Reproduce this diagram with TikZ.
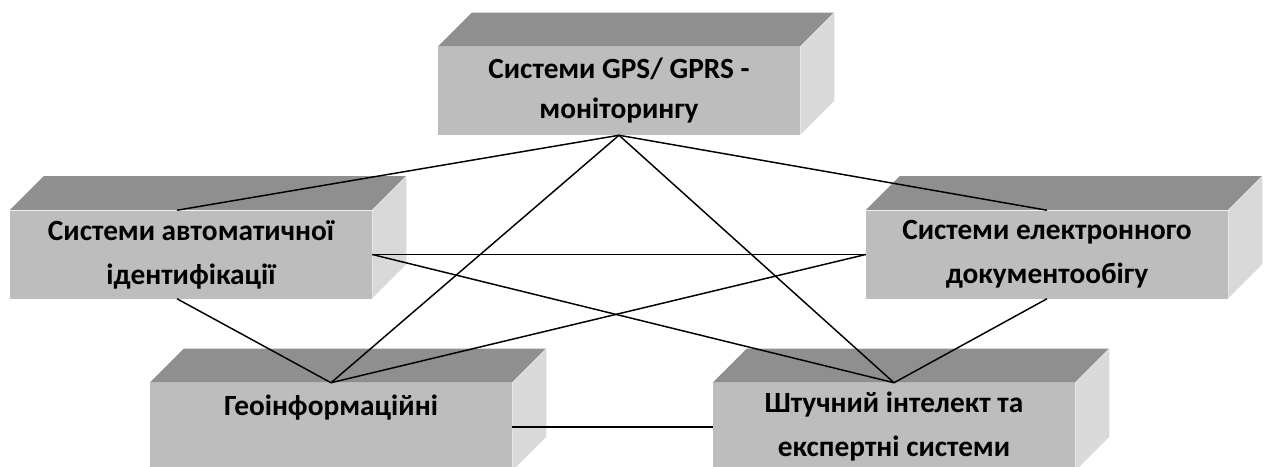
\documentclass[tikz,border=0pt]{standalone}
\usepackage{fontspec}
\setmainfont{Carlito}
\usepackage{tikz}
\definecolor{frontgray}{RGB}{189,189,189}
\definecolor{topgray}{RGB}{143,143,143}
\definecolor{sidegray}{RGB}{217,217,217}
\tikzset{
  block/.style = {fill = frontgray, minimum width = 271.5pt, minimum height = 66pt,
    inner sep = 0pt, align = center, font = \fontsize{22}{33}\selectfont\bfseries},
  link/.style = {line width = 1.1pt}
}

\begin{document}
\begin{tikzpicture}[x = 0.75pt, y = -0.75pt]
        \useasboundingbox (0, 0) rectangle (1265, 467);
        \node [block, font = \fontsize{22}{30}\selectfont\bfseries] (gps) at (619, 91) {Системи GPS/ GPRS -\\моніторингу};
        \node [block] (aid) at (191, 254.5) {Системи автоматичної\\ідентифікації};
        \node [block] (edo) at (1047, 254.5) {Системи електронного\\документообігу};
        \node [block] (geo) at (331, 427) {Геоінформаційні\\~};
        \node [block] (ai) at (894, 427) {Штучний інтелект та\\експертні системи};
        \foreach \n in {gps, aid, edo, geo, ai} {
            \fill [topgray] (\n.north west) -- ++(34, -34) -- ++(362, 0) -- ++(-34, 34) -- cycle;
            \fill [sidegray] (\n.north east) -- ++(34, -34) -- ++(0, 88) -- ++(-34, 34) -- cycle;
        }
        % connection points of the left box sit a little left of its centre
        \coordinate (aidtop) at ([xshift = -10.5pt] aid.north);
        \coordinate (aidbot) at ([xshift = -10.5pt] aid.south);
        \draw [link] (gps.south) -- (aidtop);
        \draw [link] (gps.south) -- (edo.north);
        \draw [link] (gps.south) -- (geo.north);
        \draw [link] (gps.south) -- (ai.north);
        \draw [link] (aid.east) -- (edo.west);
        \draw [link] (aid.east) -- (ai.north);
        \draw [link] (aidbot) -- (geo.north);
        \draw [link] (edo.west) -- (geo.north);
        \draw [link] (edo.south) -- (ai.north);
        \draw [link] (geo.east) -- (ai.west);
    \end{tikzpicture}
\end{document}
